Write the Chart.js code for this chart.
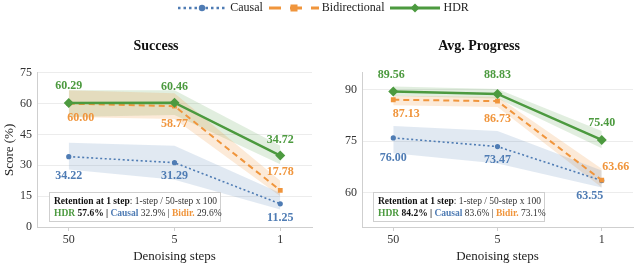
<!DOCTYPE html>
<html>
<head>
<meta charset="utf-8">
<script src="https://cdn.jsdelivr.net/npm/chart.js@4.4.1/dist/chart.umd.min.js"></script>
<style>
  body { margin: 0; width: 638px; height: 266px; position: relative; background: #fff; overflow: hidden;
         font-family: "Liberation Serif", serif; }
  #successChart { position: absolute; left: 0; top: 0; }
  #progressChart { position: absolute; left: 320px; top: 0; }
  .legend { position: absolute; top: 0; left: 4px; width: 638px; height: 15px; display: flex;
            justify-content: center; align-items: center; font-size: 12px; color: #222; }
  .legend .item { display: flex; align-items: center; margin: 0 3px; }
  .legend svg { margin-right: 3px; }
  .retention { position: absolute; width: 166px; height: 26px; border: 1px solid #cfcfcf; background: rgba(255,255,255,0.92);
               font-size: 9.5px; line-height: 12px; padding: 2px 0 0 4px; color: #333; white-space: nowrap; }
  .retention b { color: #111; }
</style>
</head>
<body>
<canvas id="successChart" width="320" height="266"></canvas>
<canvas id="progressChart" width="318" height="266"></canvas>

<div class="legend">
  <div class="item">
    <svg width="50" height="12"><line x1="1" y1="6" x2="49" y2="6" stroke="#4f7cb4" stroke-width="2.5" stroke-dasharray="2.5 3"/><circle cx="25" cy="6" r="3.2" fill="#4f7cb4"/></svg>Causal
  </div>
  <div class="item">
    <svg width="50" height="12"><line x1="0" y1="6" x2="50" y2="6" stroke="#f0953c" stroke-width="3" stroke-dasharray="12 9"/><rect x="21.5" y="2.5" width="7" height="7" fill="#f0953c"/></svg>Bidirectional
  </div>
  <div class="item">
    <svg width="50" height="12"><line x1="0" y1="6" x2="50" y2="6" stroke="#4c9a3f" stroke-width="3"/><polygon points="25,1.5 29.5,6 25,10.5 20.5,6" fill="#4c9a3f"/></svg>HDR
  </div>
</div>

<div class="retention" style="left:49px; top:192px;">
  <b>Retention at 1 step</b>: 1-step / 50-step x 100<br>
  <b style="color:#4c9a3f">HDR</b> <b>57.6%</b> <b>|</b> <b style="color:#4f7cb4">Causal</b> 32.9% | <b style="color:#f0953c">Bidir.</b> 29.6%
</div>
<div class="retention" style="left:373px; top:192px;">
  <b>Retention at 1 step</b>: 1-step / 50-step x 100<br>
  <b style="color:#4c9a3f">HDR</b> <b>84.2%</b> <b>|</b> <b style="color:#4f7cb4">Causal</b> 83.6% | <b style="color:#f0953c">Bidir.</b> 73.1%
</div>

<script>
// denoising steps on the x axis
const stepLabels = ["50", "5", "1"];

// Success (%)
const successCausal = [34.22, 31.29, 11.25];
const successBidir = [60.00, 58.77, 17.78];
const successHdr = [60.29, 60.46, 34.72];
// shaded bands (low / high)
const successCausalLo = [28.0, 23.0, 8.5];
const successCausalHi = [41.0, 39.5, 16.5];
const successBidirLo = [53.5, 52.5, 15.0];
const successBidirHi = [66.5, 65.0, 22.5];
const successHdrLo = [53.5, 54.5, 30.5];
const successHdrHi = [66.5, 66.5, 39.5];
const successTicks = [0, 15, 30, 45, 60, 75];

// Avg. Progress
const progressCausal = [76.00, 73.47, 63.55];
const progressBidir = [87.13, 86.73, 63.66];
const progressHdr = [89.56, 88.83, 75.40];
const progressCausalLo = [71.5, 68.5, 61.5];
const progressCausalHi = [79.5, 78.0, 66.5];
const progressBidirLo = [85.5, 85.0, 61.5];
const progressBidirHi = [88.3, 88.0, 67.0];
const progressHdrLo = [88.2, 87.5, 73.0];
const progressHdrHi = [91.0, 90.3, 78.0];
const progressTicks = [60, 75, 90];

const BLUE = "#4f7cb4", ORANGE = "#f0953c", GREEN = "#4c9a3f";
const FONT = "'Liberation Serif', serif";

const pts = arr => arr.map((v, i) => ({ x: i, y: v }));

// draws the value next to every point of a line
const valueLabels = {
  id: "valueLabels",
  afterDatasetsDraw(chart, args, opts) {
    const ctx = chart.ctx;
    chart.data.datasets.forEach((ds, i) => {
      const offsets = opts.offsets[ds.label];
      if (!offsets) return;
      const meta = chart.getDatasetMeta(i);
      meta.data.forEach((pt, j) => {
        ctx.save();
        ctx.font = "bold 12px " + FONT;
        ctx.fillStyle = ds.borderColor;
        ctx.textAlign = "center";
        ctx.textBaseline = "middle";
        ctx.fillText(ds.data[j].y.toFixed(2), pt.x + offsets[j][0], pt.y + offsets[j][1]);
        ctx.restore();
      });
    });
  }
};

function band(lo, hi, color) {
  return [
    { label: "lo", data: pts(lo), borderWidth: 0, pointRadius: 0, fill: false, order: 5 },
    { label: "hi", data: pts(hi), borderWidth: 0, pointRadius: 0, fill: "-1", backgroundColor: color, order: 5 }
  ];
}

function makePanel(id, cfg) {
  const datasets = [
    ...band(cfg.causalLo, cfg.causalHi, "rgba(79,124,180,0.17)"),
    ...band(cfg.bidirLo, cfg.bidirHi, "rgba(240,149,60,0.2)"),
    ...band(cfg.hdrLo, cfg.hdrHi, "rgba(76,154,63,0.17)"),
    { label: "Causal", data: pts(cfg.causal), borderColor: BLUE, backgroundColor: BLUE, borderWidth: 1.6,
      borderDash: [2, 2.5], pointStyle: "circle", pointRadius: 2.6, pointBorderWidth: 0, order: 2 },
    { label: "Bidirectional", data: pts(cfg.bidir), borderColor: ORANGE, backgroundColor: ORANGE, borderWidth: 2,
      borderDash: [6, 4], pointStyle: "rect", pointRadius: 3.4, pointBorderWidth: 0, order: 1 },
    { label: "HDR", data: pts(cfg.hdr), borderColor: GREEN, backgroundColor: GREEN, borderWidth: 2.5,
      pointStyle: "rectRot", pointRadius: 5, pointBorderWidth: 0, order: 0 }
  ];

  return new Chart(document.getElementById(id), {
    type: "line",
    data: { datasets },
    plugins: [valueLabels],
    options: {
      responsive: false,
      animation: false,
      layout: { padding: { left: 0, right: cfg.padRight, top: 0, bottom: 0 } },
      scales: {
        x: {
          type: "linear", min: -0.3, max: 2.3,
          afterBuildTicks: axis => { axis.ticks = stepLabels.map((s, i) => ({ value: i })); },
          afterFit: axis => { axis.height = 39; },
          ticks: { callback: v => stepLabels[v], font: { family: FONT, size: 12 }, color: "#333", padding: 2, maxRotation: 0 },
          grid: { drawOnChartArea: false, tickLength: 4, color: "#cfcfcf" },
          border: { color: "#cfcfcf" },
          title: { display: true, text: "Denoising steps", font: { family: FONT, size: 13 }, color: "#222",
                   padding: { top: 0, bottom: 2 } }
        },
        y: {
          min: cfg.yMin, max: cfg.yMax,
          afterBuildTicks: axis => { axis.ticks = cfg.ticks.map(v => ({ value: v })); },
          afterFit: axis => { axis.width = cfg.yWidth; },
          ticks: { font: { family: FONT, size: 12 }, color: "#333", padding: 5 },
          grid: { drawTicks: false, color: "#ececec" },
          border: { color: "#cfcfcf" },
          title: { display: cfg.yTitle !== "", text: cfg.yTitle, font: { family: FONT, size: 13 }, color: "#222",
                   padding: { top: 2, bottom: 0 } }
        }
      },
      plugins: {
        legend: { display: false },
        tooltip: { enabled: false },
        title: { display: true, text: cfg.title, font: { family: FONT, size: 14, weight: "bold" }, color: "#111",
                 padding: { top: 38, bottom: 18 } },
        valueLabels: { offsets: cfg.offsets }
      }
    }
  });
}

makePanel("successChart", {
  title: "Success", yTitle: "Score (%)", yMin: 0, yMax: 75, ticks: successTicks, yWidth: 37, padRight: 8,
  causal: successCausal, bidir: successBidir, hdr: successHdr,
  causalLo: successCausalLo, causalHi: successCausalHi,
  bidirLo: successBidirLo, bidirHi: successBidirHi,
  hdrLo: successHdrLo, hdrHi: successHdrHi,
  offsets: {
    "HDR": [[0, -17], [0, -16], [0, -16]],
    "Bidirectional": [[12, 14], [0, 18], [0, -19]],
    "Causal": [[0, 19], [0, 13], [0, 14]]
  }
});

makePanel("progressChart", {
  title: "Avg. Progress", yTitle: "", yMin: 50, yMax: 95, ticks: progressTicks, yWidth: 42, padRight: 0,
  causal: progressCausal, bidir: progressBidir, hdr: progressHdr,
  causalLo: progressCausalLo, causalHi: progressCausalHi,
  bidirLo: progressBidirLo, bidirHi: progressBidirHi,
  hdrLo: progressHdrLo, hdrHi: progressHdrHi,
  offsets: {
    "HDR": [[-2, -17], [0, -19], [0, -17]],
    "Bidirectional": [[13, 14], [0, 18], [14, -13]],
    "Causal": [[0, 20], [0, 13], [-12, 15]]
  }
});
</script>
</body>
</html>
